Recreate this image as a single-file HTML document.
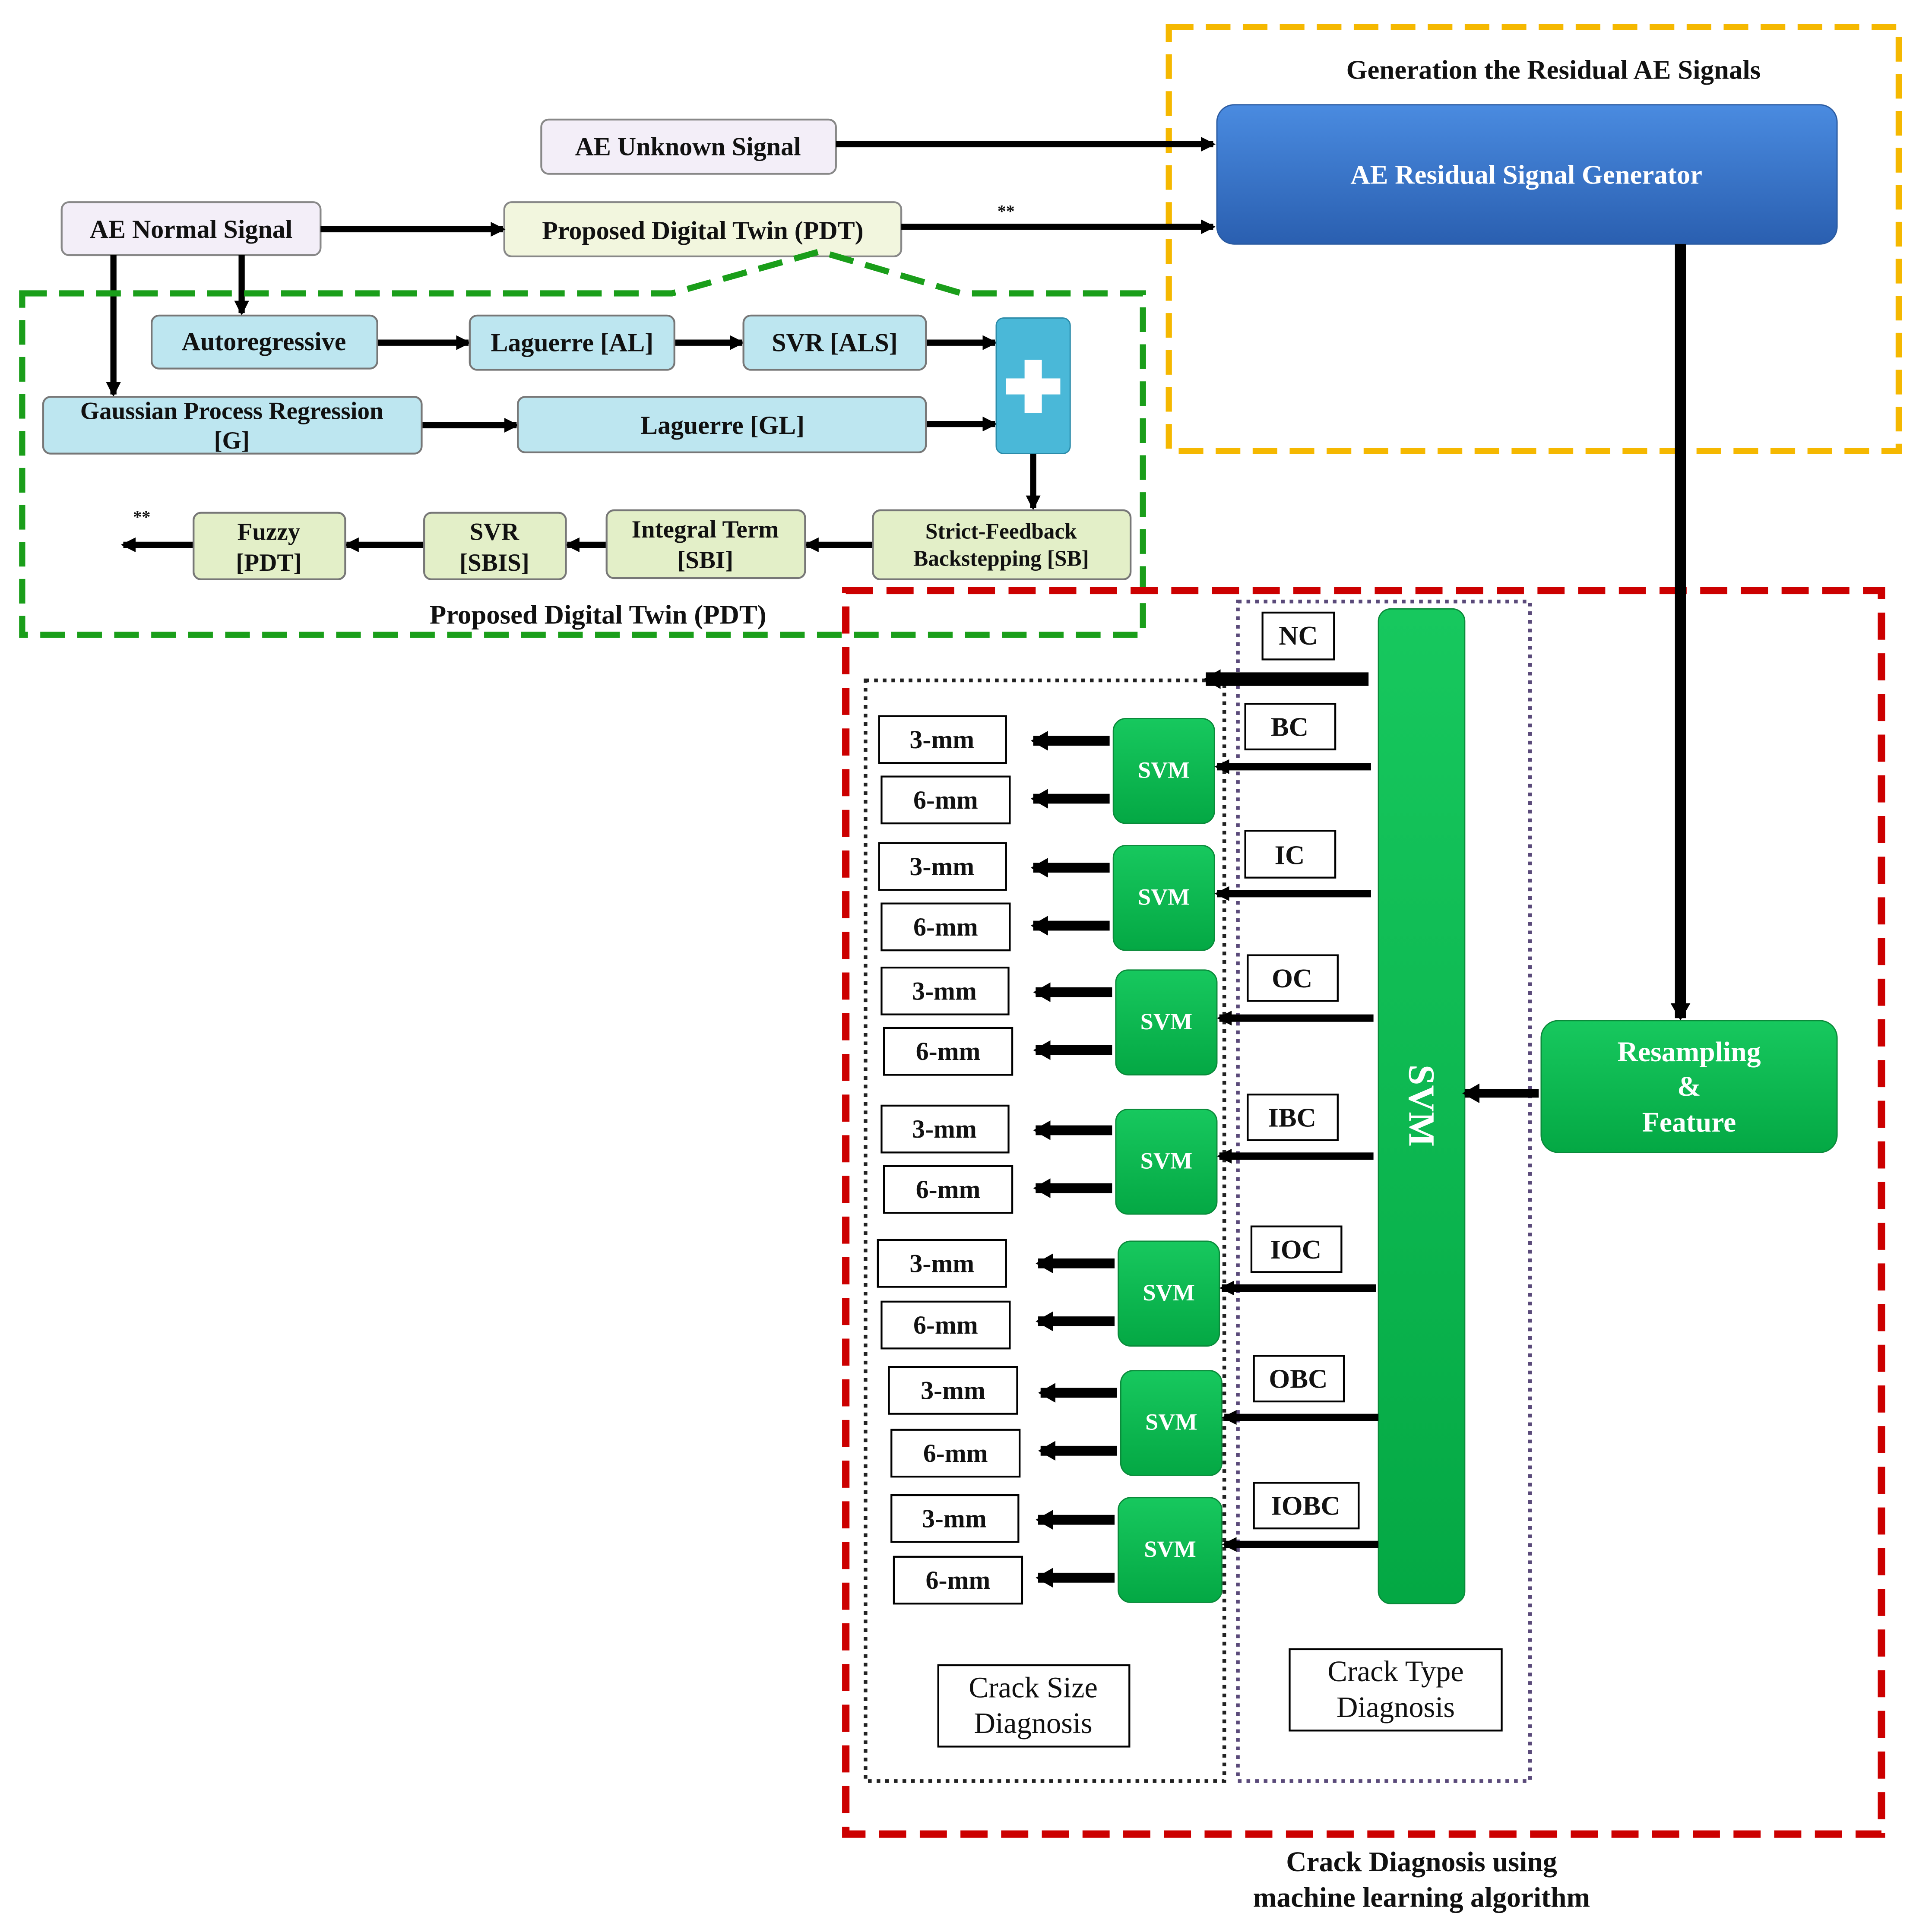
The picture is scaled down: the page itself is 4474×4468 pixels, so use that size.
<!DOCTYPE html>
<html><head><meta charset="utf-8"><style>html,body{margin:0;padding:0;background:#fff}svg{display:block}text{font-family:"Liberation Serif",serif;font-weight:bold;fill:#111}</style></head><body>
<svg width="4474" height="4468" viewBox="0 0 1567 1565" preserveAspectRatio="none" xmlns="http://www.w3.org/2000/svg">
<defs>
<marker id="a" markerUnits="userSpaceOnUse" markerWidth="14" markerHeight="16" refX="12" refY="8" orient="auto"><path d="M0,0 L14,8 L0,16 z" fill="#000"/></marker>
<marker id="s" markerUnits="userSpaceOnUse" markerWidth="12" markerHeight="12" refX="10" refY="6" orient="auto"><path d="M0,0 L12,6 L0,12 z" fill="#000"/></marker>
<linearGradient id="bl" x1="0" y1="0" x2="0" y2="1"><stop offset="0" stop-color="#4a8be0"/><stop offset="1" stop-color="#2a5fb0"/></linearGradient>
<linearGradient id="gr" x1="0" y1="0" x2="0" y2="1"><stop offset="0" stop-color="#17c85e"/><stop offset="1" stop-color="#04a844"/></linearGradient>
</defs>
<rect x="948" y="22" width="592" height="344" fill="none" stroke="#f5b800" stroke-width="5" stroke-dasharray="20,10"/>
<text x="1260" y="64" font-size="22" text-anchor="middle">Generation the Residual AE Signals</text>
<rect x="987" y="85" width="503" height="113" rx="14" fill="url(#bl)" stroke="#2a5aa0"/>
<text x="1238" y="149" font-size="22" text-anchor="middle" style="fill:#fff">AE Residual Signal Generator</text>
<g stroke="#888" stroke-width="1.5">
<rect x="439" y="97" width="239" height="44" rx="6" fill="#f3eef8"/>
<rect x="50" y="164" width="210" height="43" rx="6" fill="#f3eef8"/>
<rect x="409" y="164" width="322" height="44" rx="6" fill="#f2f6de"/>
</g>
<text x="558" y="126" font-size="21" text-anchor="middle">AE Unknown Signal</text>
<text x="155" y="193" font-size="21" text-anchor="middle">AE Normal Signal</text>
<text x="570" y="194" font-size="21" text-anchor="middle">Proposed Digital Twin (PDT)</text>
<g stroke="#000" stroke-width="5" marker-end="url(#s)" fill="none">
<line x1="678" y1="117" x2="984" y2="117"/>
<line x1="260" y1="186" x2="408" y2="186"/>
<line x1="731" y1="184" x2="984" y2="184"/>
<line x1="92" y1="207" x2="92" y2="320"/>
<line x1="196" y1="207" x2="196" y2="254"/>
<line x1="306" y1="278" x2="380" y2="278"/>
<line x1="547" y1="278" x2="602" y2="278"/>
<line x1="751" y1="278" x2="807" y2="278"/>
<line x1="342" y1="345" x2="419" y2="345"/>
<line x1="751" y1="344" x2="807" y2="344"/>
<line x1="838" y1="368" x2="838" y2="412"/>
<line x1="708" y1="442" x2="654" y2="442"/>
<line x1="492" y1="442" x2="460" y2="442"/>
<line x1="344" y1="442" x2="281" y2="442"/>
<line x1="157" y1="442" x2="100" y2="442"/>
</g>
<text x="816" y="176" font-size="14" text-anchor="middle">**</text>
<text x="115" y="424" font-size="14" text-anchor="middle">**</text>
<path d="M18,238 L545,238 L665,204 L780,238 L927,238 L927,515 L18,515 Z" fill="none" stroke="#1a9e1a" stroke-width="5" stroke-dasharray="20,10"/>
<g stroke="#777" stroke-width="1.5" fill="#bde6f0">
<rect x="123" y="256" width="183" height="43" rx="6"/>
<rect x="381" y="256" width="166" height="44" rx="6"/>
<rect x="603" y="256" width="148" height="44" rx="6"/>
<rect x="35" y="322" width="307" height="46" rx="6"/>
<rect x="420" y="322" width="331" height="45" rx="6"/>
</g>
<rect x="808" y="258" width="60" height="110" rx="6" fill="#4ab8d8" stroke="#2a8aa8"/>
<rect x="816" y="307" width="44" height="13" fill="#fff"/><rect x="831" y="292" width="14" height="43" fill="#fff"/>
<text x="214" y="284" font-size="21" text-anchor="middle">Autoregressive</text>
<text x="464" y="285" font-size="21" text-anchor="middle">Laguerre [AL]</text>
<text x="677" y="285" font-size="21" text-anchor="middle">SVR [ALS]</text>
<text x="188" y="340" font-size="20" text-anchor="middle">Gaussian Process Regression</text>
<text x="188" y="364" font-size="20" text-anchor="middle">[G]</text>
<text x="586" y="352" font-size="21" text-anchor="middle">Laguerre [GL]</text>
<g stroke="#777" stroke-width="1.5" fill="#e3efc8">
<rect x="708" y="414" width="209" height="56" rx="6"/>
<rect x="492" y="414" width="161" height="55" rx="6"/>
<rect x="344" y="416" width="115" height="54" rx="6"/>
<rect x="157" y="416" width="123" height="54" rx="6"/>
</g>
<text x="812" y="437" font-size="18" text-anchor="middle">Strict-Feedback</text>
<text x="812" y="459" font-size="18" text-anchor="middle">Backstepping [SB]</text>
<text x="572" y="436" font-size="20" text-anchor="middle">Integral Term</text>
<text x="572" y="461" font-size="20" text-anchor="middle">[SBI]</text>
<text x="401" y="438" font-size="20" text-anchor="middle">SVR</text>
<text x="401" y="463" font-size="20" text-anchor="middle">[SBIS]</text>
<text x="218" y="438" font-size="20" text-anchor="middle">Fuzzy</text>
<text x="218" y="463" font-size="20" text-anchor="middle">[PDT]</text>
<text x="485" y="506" font-size="22" text-anchor="middle">Proposed Digital Twin (PDT)</text>
<rect x="686" y="479" width="840" height="1009" fill="none" stroke="#cc0000" stroke-width="6" stroke-dasharray="22,11"/>
<rect x="1004" y="488" width="237" height="957" fill="none" stroke="#5a4a7a" stroke-width="3" stroke-dasharray="3,4"/>
<rect x="702" y="552" width="291" height="893" fill="none" stroke="#222" stroke-width="3" stroke-dasharray="3,4"/>
<line x1="1363" y1="198" x2="1363" y2="826" stroke="#000" stroke-width="9" marker-end="url(#a)"/>
<rect x="1118" y="494" width="70" height="807" rx="10" fill="url(#gr)" stroke="#0a8a3a"/>
<text transform="translate(1143,897) rotate(90)" font-size="30" text-anchor="middle" style="fill:#fff">SVM</text>
<rect x="1250" y="828" width="240" height="107" rx="14" fill="url(#gr)" stroke="#0a8a3a"/>
<text x="1370" y="861" font-size="23" text-anchor="middle" style="fill:#fff">Resampling</text>
<text x="1370" y="889" font-size="23" text-anchor="middle" style="fill:#fff">&amp;</text>
<text x="1370" y="918" font-size="23" text-anchor="middle" style="fill:#fff">Feature</text>
<line x1="1248" y1="887" x2="1188" y2="887" stroke="#000" stroke-width="7" marker-end="url(#a)"/>
<line x1="1110" y1="551" x2="978" y2="551" stroke="#000" stroke-width="11" marker-end="url(#a)"/>
<g stroke="#000" stroke-width="1.5" fill="#fff">
<rect x="1024" y="497" width="58" height="38"/>
<rect x="1010" y="571" width="73" height="37"/>
<rect x="1010" y="674" width="73" height="38"/>
<rect x="1012" y="775" width="73" height="37"/>
<rect x="1012" y="888" width="73" height="37"/>
<rect x="1015" y="995" width="73" height="37"/>
<rect x="1017" y="1100" width="73" height="37"/>
<rect x="1017" y="1203" width="85" height="37"/>
<rect x="761" y="1351" width="155" height="66"/>
<rect x="1046" y="1338" width="172" height="66"/>
</g>
<g font-size="22" text-anchor="middle">
<text x="1053" y="523">NC</text><text x="1046" y="597">BC</text><text x="1046" y="701">IC</text>
<text x="1048" y="801">OC</text><text x="1048" y="914">IBC</text><text x="1051" y="1021">IOC</text>
<text x="1053" y="1126">OBC</text><text x="1059" y="1229">IOBC</text>
</g>
<text x="838" y="1377" font-size="24" text-anchor="middle" style="font-weight:normal">Crack Size</text>
<text x="838" y="1406" font-size="24" text-anchor="middle" style="font-weight:normal">Diagnosis</text>
<text x="1132" y="1364" font-size="24" text-anchor="middle" style="font-weight:normal">Crack Type</text>
<text x="1132" y="1393" font-size="24" text-anchor="middle" style="font-weight:normal">Diagnosis</text>
<text x="1153" y="1518" font-size="23" text-anchor="middle">Crack Diagnosis using</text>
<text x="1153" y="1547" font-size="23" text-anchor="middle">machine learning algorithm</text>
<g font-size="21" text-anchor="middle">
<g>
<rect x="903" y="583" width="82" height="85" rx="10" fill="url(#gr)" stroke="#0a8a3a"/><text x="944" y="631" style="fill:#fff;font-size:19px">SVM</text>
<line x1="1112" y1="622" x2="987" y2="622" stroke="#000" stroke-width="6" marker-end="url(#s)"/>
<rect x="713" y="581" width="103" height="38" fill="#fff" stroke="#000" stroke-width="1.5"/><text x="764" y="607">3-mm</text>
<rect x="715" y="630" width="104" height="38" fill="#fff" stroke="#000" stroke-width="1.5"/><text x="767" y="656">6-mm</text>
<line x1="900" y1="601" x2="838" y2="601" stroke="#000" stroke-width="8" marker-end="url(#a)"/>
<line x1="900" y1="648" x2="838" y2="648" stroke="#000" stroke-width="8" marker-end="url(#a)"/>
</g>
<g>
<rect x="903" y="686" width="82" height="85" rx="10" fill="url(#gr)" stroke="#0a8a3a"/><text x="944" y="734" style="fill:#fff;font-size:19px">SVM</text>
<line x1="1112" y1="725" x2="987" y2="725" stroke="#000" stroke-width="6" marker-end="url(#s)"/>
<rect x="713" y="684" width="103" height="38" fill="#fff" stroke="#000" stroke-width="1.5"/><text x="764" y="710">3-mm</text>
<rect x="715" y="733" width="104" height="38" fill="#fff" stroke="#000" stroke-width="1.5"/><text x="767" y="759">6-mm</text>
<line x1="900" y1="704" x2="838" y2="704" stroke="#000" stroke-width="8" marker-end="url(#a)"/>
<line x1="900" y1="751" x2="838" y2="751" stroke="#000" stroke-width="8" marker-end="url(#a)"/>
</g>
<g>
<rect x="905" y="787" width="82" height="85" rx="10" fill="url(#gr)" stroke="#0a8a3a"/><text x="946" y="835" style="fill:#fff;font-size:19px">SVM</text>
<line x1="1114" y1="826" x2="989" y2="826" stroke="#000" stroke-width="6" marker-end="url(#s)"/>
<rect x="715" y="785" width="103" height="38" fill="#fff" stroke="#000" stroke-width="1.5"/><text x="766" y="811">3-mm</text>
<rect x="717" y="834" width="104" height="38" fill="#fff" stroke="#000" stroke-width="1.5"/><text x="769" y="860">6-mm</text>
<line x1="902" y1="805" x2="840" y2="805" stroke="#000" stroke-width="8" marker-end="url(#a)"/>
<line x1="902" y1="852" x2="840" y2="852" stroke="#000" stroke-width="8" marker-end="url(#a)"/>
</g>
<g>
<rect x="905" y="900" width="82" height="85" rx="10" fill="url(#gr)" stroke="#0a8a3a"/><text x="946" y="948" style="fill:#fff;font-size:19px">SVM</text>
<line x1="1114" y1="938" x2="989" y2="938" stroke="#000" stroke-width="6" marker-end="url(#s)"/>
<rect x="715" y="897" width="103" height="38" fill="#fff" stroke="#000" stroke-width="1.5"/><text x="766" y="923">3-mm</text>
<rect x="717" y="946" width="104" height="38" fill="#fff" stroke="#000" stroke-width="1.5"/><text x="769" y="972">6-mm</text>
<line x1="902" y1="917" x2="840" y2="917" stroke="#000" stroke-width="8" marker-end="url(#a)"/>
<line x1="902" y1="964" x2="840" y2="964" stroke="#000" stroke-width="8" marker-end="url(#a)"/>
</g>
<g>
<rect x="907" y="1007" width="82" height="85" rx="10" fill="url(#gr)" stroke="#0a8a3a"/><text x="948" y="1055" style="fill:#fff;font-size:19px">SVM</text>
<line x1="1116" y1="1045" x2="991" y2="1045" stroke="#000" stroke-width="6" marker-end="url(#s)"/>
<rect x="712" y="1006" width="104" height="38" fill="#fff" stroke="#000" stroke-width="1.5"/><text x="764" y="1032">3-mm</text>
<rect x="715" y="1056" width="104" height="38" fill="#fff" stroke="#000" stroke-width="1.5"/><text x="767" y="1082">6-mm</text>
<line x1="904" y1="1025" x2="842" y2="1025" stroke="#000" stroke-width="8" marker-end="url(#a)"/>
<line x1="904" y1="1072" x2="842" y2="1072" stroke="#000" stroke-width="8" marker-end="url(#a)"/>
</g>
<g>
<rect x="909" y="1112" width="82" height="85" rx="10" fill="url(#gr)" stroke="#0a8a3a"/><text x="950" y="1160" style="fill:#fff;font-size:19px">SVM</text>
<line x1="1118" y1="1150" x2="993" y2="1150" stroke="#000" stroke-width="6" marker-end="url(#s)"/>
<rect x="721" y="1109" width="104" height="38" fill="#fff" stroke="#000" stroke-width="1.5"/><text x="773" y="1135">3-mm</text>
<rect x="723" y="1160" width="104" height="38" fill="#fff" stroke="#000" stroke-width="1.5"/><text x="775" y="1186">6-mm</text>
<line x1="906" y1="1130" x2="844" y2="1130" stroke="#000" stroke-width="8" marker-end="url(#a)"/>
<line x1="906" y1="1177" x2="844" y2="1177" stroke="#000" stroke-width="8" marker-end="url(#a)"/>
</g>
<g>
<rect x="907" y="1215" width="84" height="85" rx="10" fill="url(#gr)" stroke="#0a8a3a"/><text x="949" y="1263" style="fill:#fff;font-size:19px">SVM</text>
<line x1="1118" y1="1253" x2="993" y2="1253" stroke="#000" stroke-width="6" marker-end="url(#s)"/>
<rect x="723" y="1213" width="103" height="38" fill="#fff" stroke="#000" stroke-width="1.5"/><text x="774" y="1239">3-mm</text>
<rect x="725" y="1263" width="104" height="38" fill="#fff" stroke="#000" stroke-width="1.5"/><text x="777" y="1289">6-mm</text>
<line x1="904" y1="1233" x2="842" y2="1233" stroke="#000" stroke-width="8" marker-end="url(#a)"/>
<line x1="904" y1="1280" x2="842" y2="1280" stroke="#000" stroke-width="8" marker-end="url(#a)"/>
</g>
</g>
</svg>
</body></html>
